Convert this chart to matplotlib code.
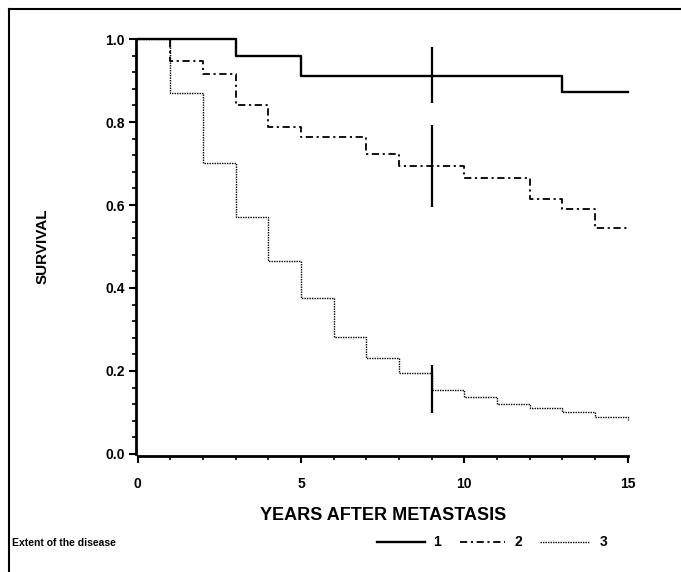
import matplotlib
matplotlib.use("Agg")
import matplotlib.pyplot as plt
from matplotlib.ticker import MultipleLocator
from matplotlib.lines import Line2D

plt.rcParams['font.family'] = ['Liberation Sans Narrow', 'Liberation Sans', 'DejaVu Sans']
plt.rcParams['font.weight'] = 'bold'

# Kaplan-Meier step data (step times, survival after each step)
t1 = [0, 3, 5, 13, 15]
s1 = [1.0, 0.96, 0.91, 0.872, 0.872]
t2 = [0, 1, 2, 3, 4, 5, 7, 8, 10, 12, 13, 14, 15]
s2 = [1.0, 0.948, 0.917, 0.84, 0.787, 0.764, 0.723, 0.695, 0.665, 0.615, 0.59, 0.545, 0.545]
t3 = [0, 1, 2, 3, 4, 5, 6, 7, 8, 9, 10, 11, 12, 13, 14, 15]
s3 = [1.0, 0.871, 0.701, 0.572, 0.465, 0.375, 0.283, 0.231, 0.195, 0.155, 0.138, 0.121, 0.111, 0.102, 0.089, 0.082]
# censoring marks at year 9 (low, high)
cens_x = [9, 9, 9]
cens_lo = [0.845, 0.595, 0.098]
cens_hi = [0.98, 0.792, 0.214]

group_labels = ['1', '2', '3']
x_ticks = [0, 5, 10, 15]
y_ticks = [0.0, 0.2, 0.4, 0.6, 0.8, 1.0]

fig = plt.figure(figsize=(6.81, 5.72), dpi=100)
ax = fig.add_axes([136/681, 1-456/572, (631-136)/681, (456-37)/572])

ls1 = '-'
ls2 = (0, (4, 2, 1.2, 2))
ls3 = (0, (1, 0.8))
ax.step(t1, s1, where='post', color='black', lw=1.7, ls=ls1)
ax.step(t2, s2, where='post', color='black', lw=1.3, ls=ls2)
ax.step(t3, s3, where='post', color='black', lw=1.0, ls=ls3)
ax.vlines(cens_x, cens_lo, cens_hi, color='black', lw=1.6)

ax.set_xlim(-0.05, 15.1)
ax.set_ylim(-0.005, 1.005)
ax.spines['top'].set_visible(False)
ax.spines['right'].set_visible(False)
for s in ['left', 'bottom']:
    ax.spines[s].set_linewidth(2.0)
    ax.spines[s].set_color('black')
ax.spines['left'].set_bounds(0, 1.0)
ax.spines['bottom'].set_bounds(0, 15)

ax.set_xticks(x_ticks)
ax.set_yticks(y_ticks)
ax.set_yticklabels(['%.1f' % v for v in y_ticks])
ax.xaxis.set_minor_locator(MultipleLocator(1))
ax.yaxis.set_minor_locator(MultipleLocator(0.04))
ax.tick_params(axis='both', which='major', direction='out', length=5, width=1.5,
               labelsize=10, pad=10)
ax.tick_params(axis='y', which='major', pad=3)
ax.tick_params(axis='both', which='minor', direction='out', length=3, width=1.2)
for lab in ax.get_xticklabels() + ax.get_yticklabels():
    lab.set_fontweight('heavy')

ax.set_xlabel('YEARS AFTER METASTASIS', fontsize=13, fontweight='heavy', labelpad=12)
ax.set_ylabel('SURVIVAL', fontsize=11, fontweight='heavy', labelpad=40)

# bottom legend
fig.text(12/681, 1-543/572, 'Extent of the disease', fontsize=7.5, fontweight='heavy',
         ha='left', va='center')
ly = 1-542/572
segs = [(377, 425, ls1, 1.7), (460, 505, ls2, 1.3), (540, 590, ls3, 1.0)]
lx = [437, 518, 604]
for (x0, x1, ls, lw), xl, lab in zip(segs, lx, group_labels):
    fig.add_artist(Line2D([x0/681, x1/681], [ly, ly], color='black', ls=ls, lw=lw,
                          transform=fig.transFigure))
    fig.text(xl/681, ly, lab, fontsize=10, fontweight='heavy', ha='center', va='center')

# partial frame (top and left edges)
fig.add_artist(Line2D([9/681, 1.0], [1-9/572, 1-9/572], color='black', lw=1.5,
                      transform=fig.transFigure))
fig.add_artist(Line2D([9/681, 9/681], [0, 1-9/572], color='black', lw=1.5,
                      transform=fig.transFigure))

fig.savefig('out.png', dpi=100)
